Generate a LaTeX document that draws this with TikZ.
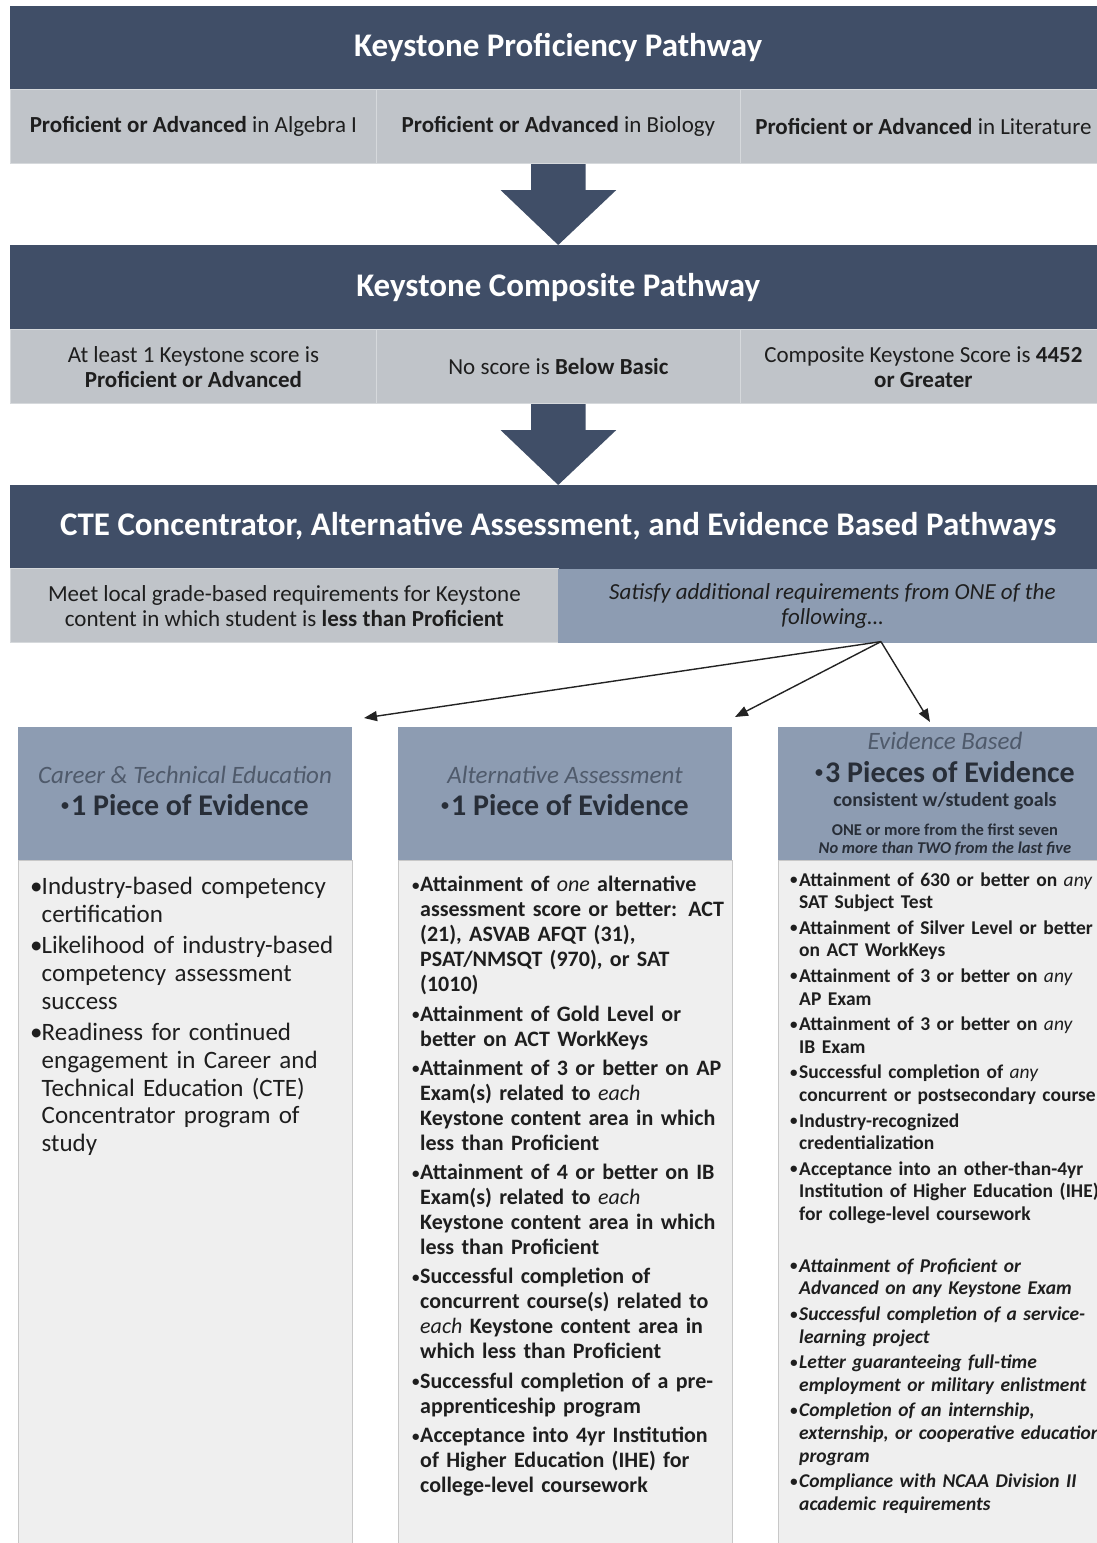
\documentclass[tikz,border=0pt]{standalone}
\usepackage{fontspec}
\setmainfont{Carlito}
\usepackage{graphicx}
\usetikzlibrary{calc,arrows.meta}
\definecolor{navy}{RGB}{64,78,103}
\definecolor{rowgrey}{RGB}{192,196,201}
\definecolor{sepc}{RGB}{214,217,220}
\definecolor{blueg}{RGB}{141,156,178}
\definecolor{bodyg}{RGB}{239,239,239}
\definecolor{bodyline}{RGB}{200,200,200}
\definecolor{textc}{RGB}{30,30,30}
\definecolor{hitc}{RGB}{79,90,107}
\definecolor{hbfc}{RGB}{40,46,56}
\definecolor{arrowc}{RGB}{35,35,35}
\newcommand{\hbull}{{\fontsize{16}{16}\selectfont\raisebox{5pt}{\textbullet}}\hspace{2pt}}
\newcommand{\sbul}{{\fontsize{15}{15}\selectfont\raisebox{1.5pt}{\textbullet}}}
\newcommand{\litemA}[1]{\par\hangindent=11.5pt\hangafter=1\noindent\makebox[11.5pt][l]{\textbullet}#1}
\newcommand{\litemB}[2]{\par\hangindent=#1\hangafter=1\noindent\makebox[#1][l]{\sbul}#2}
\newcommand{\ri}[1]{{\mdseries\itshape #1}}
\begin{document}
\begin{tikzpicture}[x=1pt,y=-1pt,
  band/.style={fill=navy, text=white, inner sep=0, font=\fontsize{33}{38}\selectfont\bfseries},
  cellbox/.style={fill=rowgrey, draw=sepc, line width=0.8pt, inner sep=0, text=textc, align=center, font=\fontsize{23}{25}\selectfont},
  colhead/.style={fill=blueg, inner sep=0},
  colbody/.style={fill=bodyg, draw=bodyline, line width=0.8pt, inner sep=0},
  hitxt/.style={inner sep=0, text=hitc, font=\fontsize{25}{28}\selectfont\itshape},
  hbftxt/.style={inner sep=0, text=hbfc, font=\fontsize{30}{34}\selectfont\bfseries},
  listtxt/.style={anchor=north west, inner sep=0, text=textc},
  blockarrow/.style={fill=navy},
  conn/.style={draw=arrowc, line width=1.4pt, -{Triangle[length=13pt,width=10pt]}}
]
\clip (0,0) rectangle (1097,1543);
\fill[white] (0,0) rectangle (1097,1543);

% ---- Keystone Proficiency Pathway
\node[band, anchor=north west, minimum width=1096, minimum height=83.3] (b1) at (10,6) {Keystone Proficiency Pathway};
\node[cellbox, anchor=north west, minimum width=366, minimum height=74] (r1a) at (10,89.3) {\textbf{Proficient or Advanced} in Algebra I};
\node[cellbox, anchor=north west, minimum width=364, minimum height=74] (r1b) at (376,89.3) {\textbf{Proficient or Advanced} in Biology};
\node[cellbox, anchor=north west, minimum width=366, minimum height=74] (r1c) at (740,89.3) {\textbf{Proficient or Advanced} in Literature};

% ---- Keystone Composite Pathway
\node[band, anchor=north west, minimum width=1096, minimum height=84.3] (b2) at (10,245) {Keystone Composite Pathway};
\node[cellbox, anchor=north west, minimum width=366, minimum height=74] (r2a) at (10,329.3) {At least 1 Keystone score is\\\textbf{Proficient or Advanced}};
\node[cellbox, anchor=north west, minimum width=364, minimum height=74] (r2b) at (376,329.3) {No score is \textbf{Below Basic}};
\node[cellbox, anchor=north west, minimum width=366, minimum height=74] (r2c) at (740,329.3) {Composite Keystone Score is \textbf{4452}\\\textbf{or Greater}};

% ---- block arrows
\fill[blockarrow] ($(r1b.south)+(-27.3,0)$) -- ($(r1b.south)+(27.3,0)$) -- ($(r1b.south)+(27.3,26)$)
  -- ($(r1b.south)+(57.8,26)$) -- (b2.north) -- ($(r1b.south)+(-57.8,26)$) -- ($(r1b.south)+(-27.3,26)$) -- cycle;

% ---- CTE band
\node[band, anchor=north west, minimum width=1096, minimum height=83.3] (b3) at (10,485) {CTE Concentrator, Alternative Assessment, and Evidence Based Pathways};
\node[cellbox, anchor=north west, minimum width=548, minimum height=74] (r3a) at (10,568.3) {Meet local grade-based requirements for Keystone\\content in which student is \textbf{less than Proficient}};
\node[cellbox, fill=blueg, draw=none, anchor=north west, minimum width=548, minimum height=74, font=\fontsize{23}{25}\selectfont\itshape] (r3b) at (558,568.3) {Satisfy additional requirements from ONE of the\\following…};

\fill[blockarrow] ($(r2b.south)+(-27.3,0)$) -- ($(r2b.south)+(27.3,0)$) -- ($(r2b.south)+(27.3,26)$)
  -- ($(r2b.south)+(57.8,26)$) -- (b3.north) -- ($(r2b.south)+(-57.8,26)$) -- ($(r2b.south)+(-27.3,26)$) -- cycle;

% ---- columns
\node[colhead, anchor=north west, minimum width=334, minimum height=133.3] (h1) at (18,726.7) {};
\node[colhead, anchor=north west, minimum width=334, minimum height=133.3] (h2) at (398,726.7) {};
\node[colhead, anchor=north west, minimum width=334, minimum height=133.3] (h3) at (778,726.7) {};
\node[colbody, anchor=north west, minimum width=334, minimum height=700] (k1) at (18,860) {};
\node[colbody, anchor=north west, minimum width=334, minimum height=700] (k2) at (398,860) {};
\node[colbody, anchor=north west, minimum width=334, minimum height=700] (k3) at (778,860) {};

% ---- connectors
\coordinate (src) at ($(r3b.south west)!0.5885!(r3b.south east)+(0,-1.5)$);
\coordinate (e1) at (364,718);
\coordinate (e2) at (735,717);
\coordinate (e3) at (930,722);
\draw[conn] (src) -- (e1);
\draw[conn] (src) -- (e2);
\draw[conn] (src) -- (e3);

% ---- column headers
\node[hitxt, anchor=base] (h1t) at (185,783.3) {Career \& Technical Education};
\node[hbftxt, anchor=base] (h1s) at (185,815) {\hbull1 Piece of Evidence};
\node[hitxt, anchor=base] (h2t) at (565,783.3) {Alternative Assessment};
\node[hbftxt, anchor=base] (h2s) at (565,815) {\hbull1 Piece of Evidence};
\node[hitxt, anchor=base] (h3t) at (945,749.5) {Evidence Based};
\node[hbftxt, anchor=base] (h3s) at (945,782.5) {\hbull3 Pieces of Evidence};
\node[inner sep=0, text=hbfc, anchor=base, font=\fontsize{20}{24}\selectfont\bfseries] (h3c) at (945,806) {consistent w/student goals};
\node[inner sep=0, text=hbfc, anchor=base, font=\fontsize{16.5}{18}\selectfont\bfseries] (h3d) at (945,835.5) {ONE or more from the first seven};
\node[inner sep=0, text=hbfc, anchor=base, font=\fontsize{16.5}{18}\selectfont\bfseries\itshape] (h3e) at (945,853.5) {No more than TWO from the last five};

% ---- column 1 list
\node[listtxt, text width=320, font=\fontsize{25}{27.7}\selectfont] (k1t) at (30,862.8) {\setlength\parskip{3.8pt}\raggedright
\litemA{\rule{0pt}{20pt}Industry-based competency\newline certification}
\litemA{Likelihood of industry-based\newline competency assessment\newline success}
\litemA{Readiness for continued\newline engagement in Career and\newline Technical Education (CTE)\newline Concentrator program of\newline study}\par};

% ---- column 2 list
\node[listtxt, text width=330, font=\fontsize{22}{25}\selectfont\bfseries] (k2t) at (412,862.2) {\setlength\parskip{4.3pt}\raggedright
\litemB{8pt}{\rule{0pt}{18pt}Attainment of \ri{one} alternative\newline assessment score or better: ACT\newline (21), ASVAB AFQT (31),\newline PSAT/NMSQT (970), or SAT\newline (1010)}
\litemB{8pt}{Attainment of Gold Level or\newline better on ACT WorkKeys}
\litemB{8pt}{Attainment of 3 or better on AP\newline Exam(s) related to \ri{each}\newline Keystone content area in which\newline less than Proficient}
\litemB{8pt}{Attainment of 4 or better on IB\newline Exam(s) related to \ri{each}\newline Keystone content area in which\newline less than Proficient}
\litemB{8pt}{Successful completion of\newline concurrent course(s) related to\newline \ri{each} Keystone content area in\newline which less than Proficient}
\litemB{8pt}{Successful completion of a pre-\newline apprenticeship program}
\litemB{8pt}{Acceptance into 4yr Institution\newline of Higher Education (IHE) for\newline college-level coursework}\par};

% ---- column 3 list
\node[listtxt, text width=340, font=\fontsize{19.5}{22.6}\selectfont\bfseries] (k3t) at (790,860.2) {\setlength\parskip{3pt}\raggedright
\litemB{9pt}{\rule{0pt}{17pt}Attainment of 630 or better on \ri{any}\newline SAT Subject Test}
\litemB{9pt}{Attainment of Silver Level or better\newline on ACT WorkKeys}
\litemB{9pt}{Attainment of 3 or better on \ri{any}\newline AP Exam}
\litemB{9pt}{Attainment of 3 or better on \ri{any}\newline IB Exam}
\litemB{9pt}{Successful completion of \ri{any}\newline concurrent or postsecondary course}
\litemB{9pt}{Industry-recognized\newline credentialization}
\litemB{9pt}{Acceptance into an other-than-4yr\newline Institution of Higher Education (IHE)\newline for college-level coursework}\par
\vspace{26.3pt}
\litemB{9pt}{\itshape Attainment of Proficient or\newline Advanced on any Keystone Exam}
\litemB{9pt}{\itshape Successful completion of a service-\newline learning project}
\litemB{9pt}{\itshape Letter guaranteeing full-time\newline employment or military enlistment}
\litemB{9pt}{\itshape Completion of an internship,\newline externship, or cooperative education\newline program}
\litemB{9pt}{\itshape Compliance with NCAA Division II\newline academic requirements}\par};
\end{tikzpicture}
\end{document}
